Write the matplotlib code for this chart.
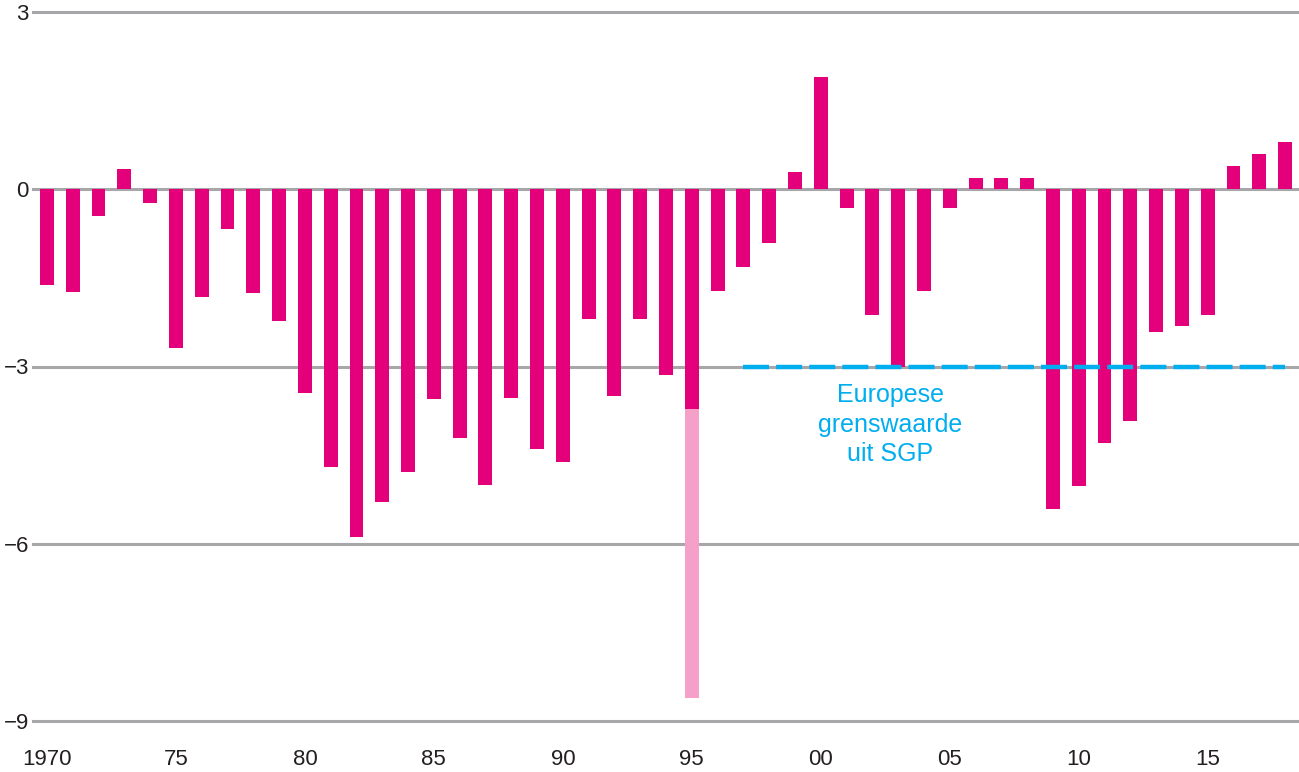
import numpy as np
import matplotlib.pyplot as plt

plt.rcParams['font.family'] = ['Liberation Sans', 'DejaVu Sans']

years = list(range(1970, 2019))
saldo = [-1.62, -1.74, -0.46, 0.34, -0.24, -2.69, -1.83, -0.68, -1.76, -2.23,
         -3.45, -4.70, -5.89, -5.30, -4.79, -3.55, -4.21, -5.01, -3.54, -4.40,
         -4.62, -2.20, -3.50, -2.20, -3.15, -3.72, -1.73, -1.32, -0.91, 0.29,
         1.90, -0.32, -2.12, -3.01, -1.73, -0.32, 0.19, 0.19, 0.19, -5.41,
         -5.03, -4.30, -3.93, -2.42, -2.32, -2.12, 0.39, 0.59, 0.80]
# extra (incidental) deficit in 1995
extra_year = 1995
extra_bottom = -8.61
eu_limit = -3
eu_start, eu_end = 1997, 2018
yticks = [3, 0, -3, -6, -9]
xticks = [1970, 1975, 1980, 1985, 1990, 1995, 2000, 2005, 2010, 2015]
xlabels = ['1970', '75', '80', '85', '90', '95', '00', '05', '10', '15']

pink = '#e3007a'
lightpink = '#f4a0c8'
blue = '#00aeef'
grey = '#a7a7a9'

fig = plt.figure(figsize=(12.99, 7.72), dpi=100)
ax = fig.add_axes([33/1299, 1-721/772, 1-33/1299, (721-12)/772])

for y in yticks:
    ax.axhline(y, color=grey, lw=2.2, zorder=0, clip_on=False)

ax.bar(years, saldo, width=0.54, color=pink, zorder=2)
i = years.index(extra_year)
ax.bar([extra_year], [extra_bottom - saldo[i]], bottom=saldo[i], width=0.54,
       color=lightpink, zorder=2)

ax.plot([eu_start, eu_end], [eu_limit, eu_limit], color=blue, lw=3.2,
        dashes=(5.85, 1.6), zorder=3)
ax.text(2002.7, -3.28, 'Europese\ngrenswaarde\nuit SGP', color=blue,
        fontsize=18, ha='center', va='top', linespacing=1.3)

ax.set_xlim(1969.46, 2018.54)
ax.set_ylim(-9, 3)
ax.set_yticks(yticks)
ax.set_xticks(xticks)
ax.set_xticklabels(xlabels)
ax.tick_params(axis='both', length=0, labelsize=16, colors='#231f20')
ax.tick_params(axis='y', pad=3)
ax.tick_params(axis='x', pad=20)
for s in ax.spines.values():
    s.set_visible(False)

fig.savefig('out.png', dpi=100)
